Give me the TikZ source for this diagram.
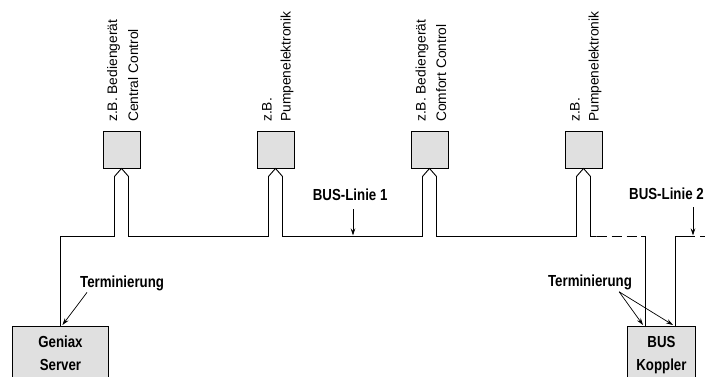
\documentclass[tikz,border=0pt]{standalone}
\usepackage{fontspec}
\setmainfont{Liberation Sans}
\newfontfamily\labelfont{Liberation Sans}[FakeStretch=0.83]
\usetikzlibrary{calc,arrows.meta}
\definecolor{devgray}{HTML}{E0E0E0}
\begin{document}
\begin{tikzpicture}[x=1pt,y=-1pt,
  wire/.style={line width=0.9pt},
  dev/.style={draw, line width=0.9pt, fill=devgray, minimum width=37pt, minimum height=37pt, inner sep=0pt},
  srv/.style={draw, line width=0.9pt, fill=devgray, anchor=north west, inner xsep=0pt, inner ysep=9.5pt,
    align=center, font=\labelfont\bfseries\fontsize{16}{23}\selectfont},
  lbl/.style={inner sep=0pt, font=\labelfont\bfseries\fontsize{16}{18}\selectfont},
  vlbl/.style={inner sep=0pt, rotate=90, anchor=base west, font=\fontsize{13.8}{16}\selectfont},
  arr/.style={line width=0.7pt, -{Stealth[length=7pt,width=4.5pt]}}
]
\useasboundingbox (0,0) rectangle (705,376);

% devices
\node[dev] (d1) at (121.5,149.5) {};
\node[dev] (d2) at (275.5,149.5) {};
\node[dev] (d3) at (429.5,149.5) {};
\node[dev] (d4) at (583.5,149.5) {};

% rotated labels
\node[vlbl] (l1a) at (117,122) {z.B. Bedienger\"at};
\node[vlbl] (l1b) at (138,122) {Central Control};
\node[vlbl] (l2a) at (271.5,122) {z.B.};
\node[vlbl] (l2b) at (290.5,122) {Pumpenelektronik};
\node[vlbl] (l3a) at (425.5,122) {z.B. Bedienger\"at};
\node[vlbl] (l3b) at (446,122) {Comfort Control};
\node[vlbl] (l4a) at (579.5,122) {z.B.};
\node[vlbl] (l4b) at (598.5,122) {Pumpenelektronik};

% servers
\node[srv, minimum width=96pt] (gs) at (12,326) {Geniax\\Server};
\node[srv, minimum width=68pt] (bk) at (627,326) {BUS\\Koppler};

\coordinate (bkL) at ($(bk.north west)+(18,0)$);
\coordinate (bkR) at ($(bk.north west)+(48,0)$);

% bus line 1
\draw[wire] (gs.north) |- ($(d1.south)+(-7,68)$) -- ($(d1.south)+(-7,8)$) -- (d1.south)
  -- ($(d1.south)+(7,8)$) -- ($(d1.south)+(7,68)$)
  -- ($(d2.south)+(-7,68)$) -- ($(d2.south)+(-7,8)$) -- (d2.south)
  -- ($(d2.south)+(7,8)$) -- ($(d2.south)+(7,68)$)
  -- ($(d3.south)+(-7,68)$) -- ($(d3.south)+(-7,8)$) -- (d3.south)
  -- ($(d3.south)+(7,8)$) -- ($(d3.south)+(7,68)$)
  -- ($(d4.south)+(-7,68)$) -- ($(d4.south)+(-7,8)$) -- (d4.south)
  -- ($(d4.south)+(7,8)$) -- ($(d4.south)+(7,68)$) -- ++(6,0) coordinate (dashA);
\coordinate (dashB) at ($(bkL |- dashA)+(-4,0)$);
\draw[wire, dash pattern=on 10pt off 5pt] (dashA) -- (dashB);
\draw[wire] (dashB) -- (bkL |- dashA) -- (bkL);

% bus line 2
\draw[wire] (bkR) |- ++(10,-90) coordinate (dashC);
\draw[wire, dash pattern=on 10pt off 5pt] (dashC) -- ++(25,0);

% labels
\node[lbl, anchor=base west] (b1) at (312.7,200) {BUS-Linie 1};
\coordinate (bus1) at (353,236);
\draw[arr] ($(b1.south -| bus1)+(0,9)$) -- ($(bus1)+(0,-0.5)$);

\node[lbl, anchor=base west] (b2) at (629,199) {BUS-Linie 2};
\coordinate (bus2) at (693,236);
\draw[arr] ($(b2.south -| bus2)+(0,8)$) -- ($(bus2)+(0,-0.5)$);

\node[lbl, anchor=base west] (t1) at (80,287.3) {Terminierung};
\draw[arr] ($(t1.south west)+(7,1.5)$) -- ($(gs.north)+(2,-1)$);

\node[lbl, anchor=base] (t2) at (590,286.7) {Terminierung};
\draw[arr] ($(t2.south east)+(-13,1.5)$) -- ($(bkL)+(-2,-1)$);
\draw[arr] ($(t2.south east)+(-13,1.5)$) -- ($(bkR)+(-2,-1)$);
\end{tikzpicture}
\end{document}
